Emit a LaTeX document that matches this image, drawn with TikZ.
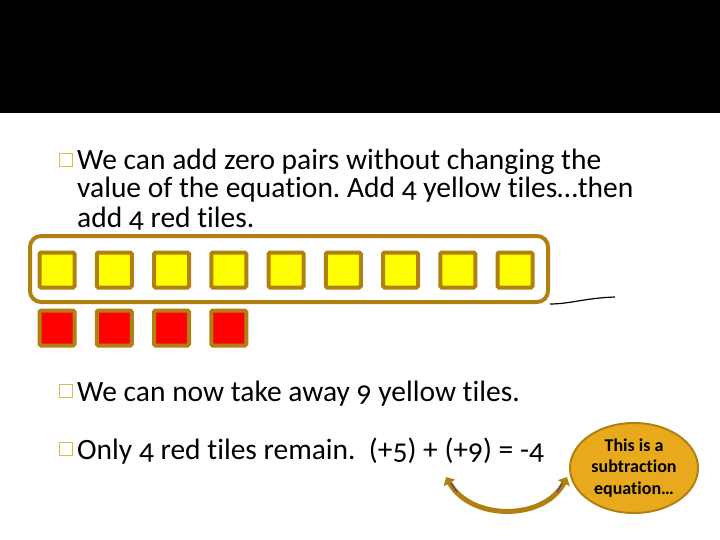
\documentclass[tikz,border=0pt]{standalone}
\usepackage{fontspec}
\setmainfont[Numbers=OldStyle,Ligatures=NoCommon]{Carlito}
\usetikzlibrary{positioning,shapes.geometric,arrows.meta}
\frenchspacing

\definecolor{tilegold}{HTML}{B08010}
\definecolor{bulletgold}{HTML}{E0B84A}
\definecolor{tileyellow}{HTML}{FFFF00}
\definecolor{tilered}{HTML}{FF0000}
\definecolor{notefill}{HTML}{E8AA1C}
\definecolor{arrowpurple}{HTML}{6A3A6A}

\tikzset{
  ytile/.style={draw=tilegold,fill=tileyellow,line width=4,minimum size=35,rounded corners=1.5,inner sep=0},
  rtile/.style={draw=tilegold,fill=tilered,line width=4,minimum size=35,rounded corners=1.5,inner sep=0},
  bullet/.style={draw=bulletgold,line width=1.8,minimum size=13,inner sep=0},
  bodytext/.style={anchor=base west,inner sep=0,font=\fontsize{29.5}{29}\selectfont,align=left}
}

\begin{document}
\begin{tikzpicture}[x=1pt,y=-1pt]
\useasboundingbox (0,0) rectangle (720,540);
\fill[black] (0,0) rectangle (720,113);

% first point (anchored on its last line)
\node[bullet] (b1) at (66,160) {};
\node[bodytext] (t1) at (77,227) {We can add zero pairs without changing the\\value of the equation. Add 4 yellow tiles\dots then\\add 4 red tiles.};

% tiles
\node[draw=tilegold,line width=4,rounded corners=11,minimum width=518,minimum height=66] (grp) at (289,269) {};
\foreach \i in {0,...,8}
  \node[ytile] (y\i) at (57+57.25*\i,270) {};
\foreach \i in {0,...,3}
  \node[rtile] (r\i) at (57+57.25*\i,328) {};
\coordinate (mark) at (615,297);
\draw[line width=1.2] (grp.south east) .. controls (570,304) and (585,298) .. (mark);

% second and third point
\node[bullet] (b2) at (66,391) {};
\node[bodytext] (t2) at (77,401) {We can now take away 9 yellow tiles.};
\node[bullet] (b3) at (66,449) {};
\node[bodytext] (t3) at (77,459) {Only 4 red tiles remain.\ \ (+5) + (+9) = -4};

% note
\node[ellipse,draw=tilegold,fill=notefill,line width=2,minimum width=128,minimum height=90,inner sep=0,align=center,font=\fontsize{18}{21.5}\selectfont\bfseries] (note) at (634,468) {This is a\\subtraction\\equation\dots};

\coordinate (from) at (446,477);
\coordinate (to) at (567,477);
\draw[tilegold,line width=5,{Triangle[length=7,width=13]}-{Triangle[length=7,width=13]}] (from) .. controls (472,522) and (545,520) .. (to);
\draw[arrowpurple,line width=1.3] (451,483) -- (457,492);
\draw[arrowpurple,line width=1.3] (562,483) -- (557,492);

\end{tikzpicture}
\end{document}
